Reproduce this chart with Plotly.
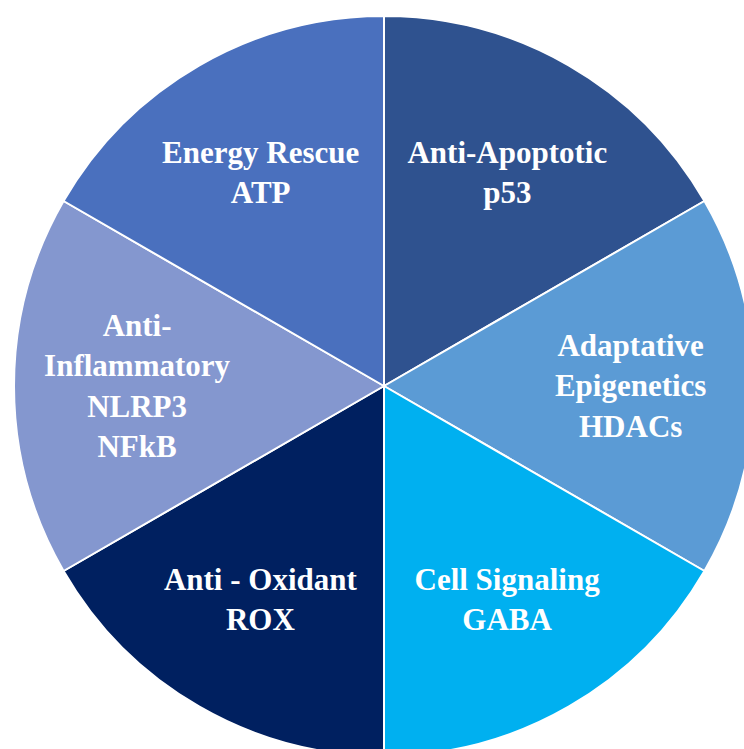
import plotly.graph_objects as go

# Data
categories = [
    "Anti-Apoptotic<br>p53",
    "Adaptative<br>Epigenetics<br>HDACs",
    "Cell Signaling<br>GABA",
    "Anti - Oxidant<br>ROX",
    "Anti-<br>Inflammatory<br>NLRP3<br>NFkB",
    "Energy Rescue<br>ATP",
]
values = [1, 1, 1, 1, 1, 1]
colors = ["#2F528F", "#5B9BD5", "#00B0F0", "#002060", "#8497CF", "#4A70BE"]

fig = go.Figure(
    go.Pie(
        labels=categories,
        values=values,
        sort=False,
        direction="clockwise",
        rotation=0,
        marker=dict(colors=colors, line=dict(color="white", width=2)),
        textinfo="label",
        textposition="inside",
        insidetextorientation="horizontal",
        textfont=dict(family="Liberation Serif", size=31, color="white", weight="bold"),
        hoverinfo="none",
        showlegend=False,
        domain=dict(x=[0, 1], y=[0, 1]),
    )
)

fig.update_layout(
    width=754,
    height=756,
    margin=dict(l=14, r=0, t=16, b=0, pad=0),
    paper_bgcolor="white",
    plot_bgcolor="white",
    uniformtext=dict(minsize=31, mode="show"),
)

post = (
    "document.body.style.margin='0';"
    "document.body.style.overflow='hidden';"
    "document.documentElement.style.overflow='hidden';"
)

fig.write_html("out.html", post_script=post, config={"displayModeBar": False})
